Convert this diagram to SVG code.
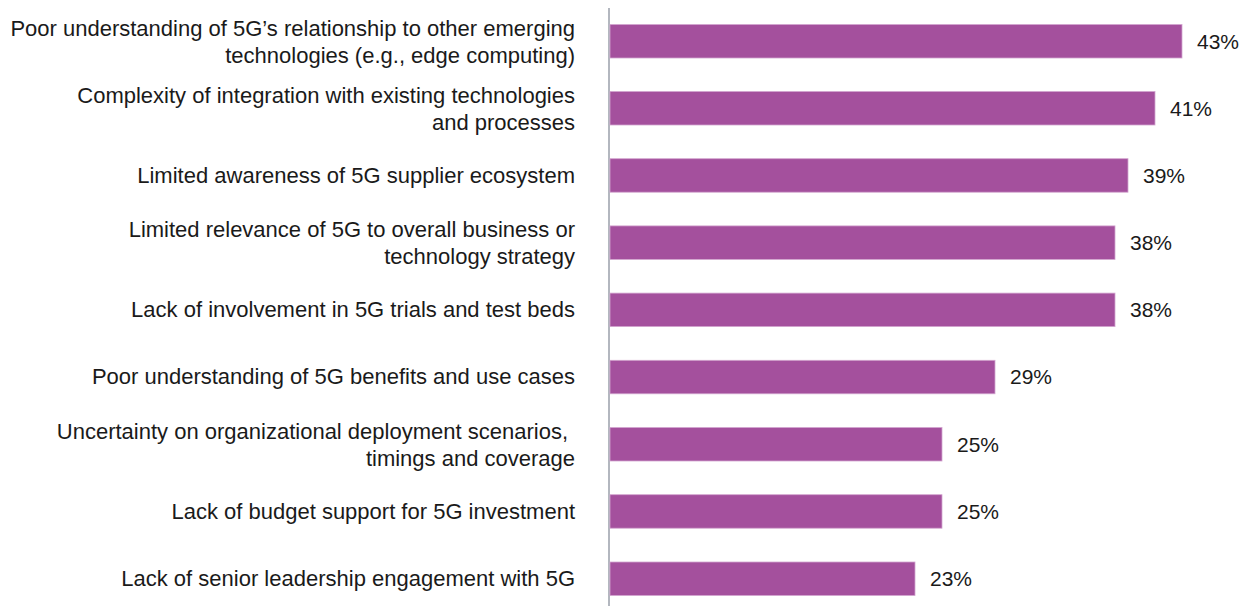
<svg xmlns="http://www.w3.org/2000/svg" width="1248" height="606" viewBox="0 0 1248 606">
<style>
.lbl{font-family:"Liberation Sans",Arial,sans-serif;font-size:22px;fill:#1a1a1a;text-anchor:end}
.val{font-family:"Liberation Sans",Arial,sans-serif;font-size:21px;fill:#1a1a1a}
.bar{fill:#A4509D;stroke:#D3A5CF;stroke-width:0.8}
</style>
<rect width="1248" height="606" fill="#fff"/>
<g id="axis"><line x1="609" y1="8" x2="609" y2="606" stroke="#B3B7BF" stroke-width="2"/></g>
<g id="bar1"><rect class="bar" x="610" y="24.5" width="572" height="33.5"/><text class="lbl" x="575" y="36">Poor understanding of 5G’s relationship to other emerging</text><text class="lbl" x="575" y="63">technologies (e.g., edge computing)</text><text class="val" x="1197" y="49">43%</text></g>
<g id="bar2"><rect class="bar" x="610" y="91.5" width="545" height="33.5"/><text class="lbl" x="575" y="103">Complexity of integration with existing technologies</text><text class="lbl" x="575" y="130">and processes</text><text class="val" x="1170" y="116">41%</text></g>
<g id="bar3"><rect class="bar" x="610" y="158.7" width="518" height="33.5"/><text class="lbl" x="575" y="183">Limited awareness of 5G supplier ecosystem</text><text class="val" x="1143" y="183">39%</text></g>
<g id="bar4"><rect class="bar" x="610" y="225.9" width="505" height="33.5"/><text class="lbl" x="575" y="237">Limited relevance of 5G to overall business or</text><text class="lbl" x="575" y="264">technology strategy</text><text class="val" x="1130" y="250">38%</text></g>
<g id="bar5"><rect class="bar" x="610" y="293.1" width="505" height="33.5"/><text class="lbl" x="575" y="317">Lack of involvement in 5G trials and test beds</text><text class="val" x="1130" y="317">38%</text></g>
<g id="bar6"><rect class="bar" x="610" y="360.3" width="385" height="33.5"/><text class="lbl" x="575" y="384">Poor understanding of 5G benefits and use cases</text><text class="val" x="1010" y="384">29%</text></g>
<g id="bar7"><rect class="bar" x="610" y="427.5" width="332" height="33.5"/><text class="lbl" x="568" y="439">Uncertainty on organizational deployment scenarios,</text><text class="lbl" x="575" y="466">timings and coverage</text><text class="val" x="957" y="452">25%</text></g>
<g id="bar8"><rect class="bar" x="610" y="494.7" width="332" height="33.5"/><text class="lbl" x="575" y="519">Lack of budget support for 5G investment</text><text class="val" x="957" y="519">25%</text></g>
<g id="bar9"><rect class="bar" x="610" y="562" width="305" height="33.5"/><text class="lbl" x="575" y="586">Lack of senior leadership engagement with 5G</text><text class="val" x="930" y="586">23%</text></g>
</svg>
